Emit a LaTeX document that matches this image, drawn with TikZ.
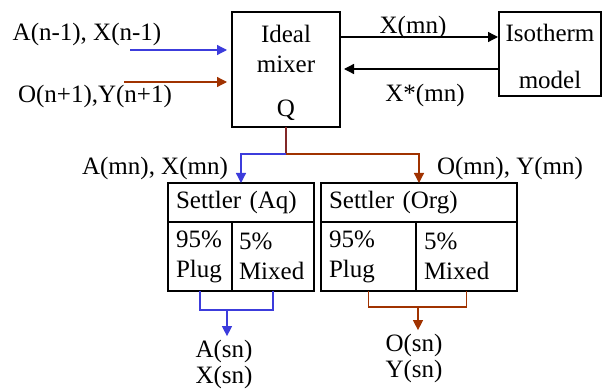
\documentclass[tikz,border=0pt]{standalone}
\usepackage{fontspec}
\setmainfont{Liberation Serif}
\usetikzlibrary{arrows.meta,positioning,calc}
\definecolor{aqblue}{RGB}{60,60,220}
\definecolor{orgred}{RGB}{160,50,0}
\definecolor{mixred}{RGB}{130,40,40}

\begin{document}
\begin{tikzpicture}[x=1pt, y=-1pt, font=\fontsize{25}{30}\selectfont,
    >={Triangle[length=10pt,width=10pt]}]
    \tikzstyle{box}=[draw, line width=1.5pt, inner sep=0pt, outer sep=0pt, anchor=north west]
    \tikzstyle{cell}=[box, align=left, inner xsep=8pt]
    \tikzstyle{flow}=[line width=1.3pt]
    \useasboundingbox (0,0) rectangle (603,390);

    % mixer and isotherm model
    \node[box, minimum width=108pt, minimum height=115pt] (mixer) at (232,12) {};
    \node (ideal) at ($(mixer.north)+(0,22)$) {Ideal};
    \node (mixtxt) at ($(mixer.north)+(0,52)$) {mixer};
    \node (q) at ($(mixer.north)+(0,98)$) {Q};
    \node[box, minimum width=102pt, minimum height=84pt] (iso) at (499,12) {};
    \node (isotxt) at ($(iso.north)+(0,21)$) {Isotherm};
    \node (model) at ($(iso.north)+(0,68)$) {model};

    \draw[flow, ->, shorten >=1pt] ([yshift=-25pt]mixer.north east) -- ([yshift=-25pt]iso.north west);
    \draw[flow, ->, shorten >=4pt] ([yshift=-57pt]iso.north west) -- ([yshift=-57pt]mixer.north east);
    \node (xmn) at (413,27) {X(mn)};
    \node (xstar) at (425,95) {X*(mn)};

    % feeds
    \coordinate (ain) at (130,50);
    \coordinate (oin) at (124,82);
    \node (alab) at (87,34) {A(n-1), X(n-1)};
    \node (olab) at (95,96) {O(n+1),Y(n+1)};
    \draw[flow, aqblue, ->, shorten >=5pt] (ain) -- (ain -| mixer.west);
    \draw[flow, orgred, ->, shorten >=5pt] (oin) -- (oin -| mixer.west);

    % settlers
    \node[cell, text width=130pt, minimum height=39pt] (aqtitle) at (168,183) {Settler (Aq)};
    \node[cell, text width=48pt, minimum height=69pt] (aqplug) at (168,222) {95\%\\Plug};
    \node[cell, inner xsep=7pt, text width=68pt, minimum height=69pt] (aqmixed) at (232,222) {5\%\\Mixed};
    \node[cell, text width=180pt, minimum height=39pt] (orgtitle) at (321,183) {Settler (Org)};
    \node[cell, text width=79pt, minimum height=69pt] (orgplug) at (321,222) {95\%\\Plug};
    \node[cell, text width=85pt, minimum height=69pt] (orgmixed) at (416,222) {5\%\\Mixed};

    % split to settlers
    \coordinate (split) at (286,154);
    \node (amn) at (155,168) {A(mn), X(mn)};
    \node (omn) at (510,168) {O(mn), Y(mn)};
    \draw[flow, mixred] (mixer.south) -- (split);
    \draw[flow, aqblue, ->] (split) -| (aqtitle.north);
    \draw[flow, orgred, ->] (split) -| (orgtitle.north);

    % outlets
    \node[align=center, font=\fontsize{25}{26}\selectfont] (aqsn) at (224,364) {A(sn)\\X(sn)};
    \node[align=center, font=\fontsize{25}{26}\selectfont] (orgsn) at (414,358) {O(sn)\\Y(sn)};
    \coordinate (aqjoin) at (227,310);
    \coordinate (orgjoin) at (418,307);
    \draw[flow, aqblue] (aqplug.south) |- (aqjoin) -| (aqmixed.south);
    \draw[flow, orgred] (orgplug.south) |- (orgjoin) -| (orgmixed.south);
    \draw[flow, aqblue, ->] (aqjoin) -- (aqjoin |- aqsn.north);
    \draw[flow, orgred, ->] (orgjoin) -- (orgjoin |- orgsn.north);
\end{tikzpicture}
\end{document}
